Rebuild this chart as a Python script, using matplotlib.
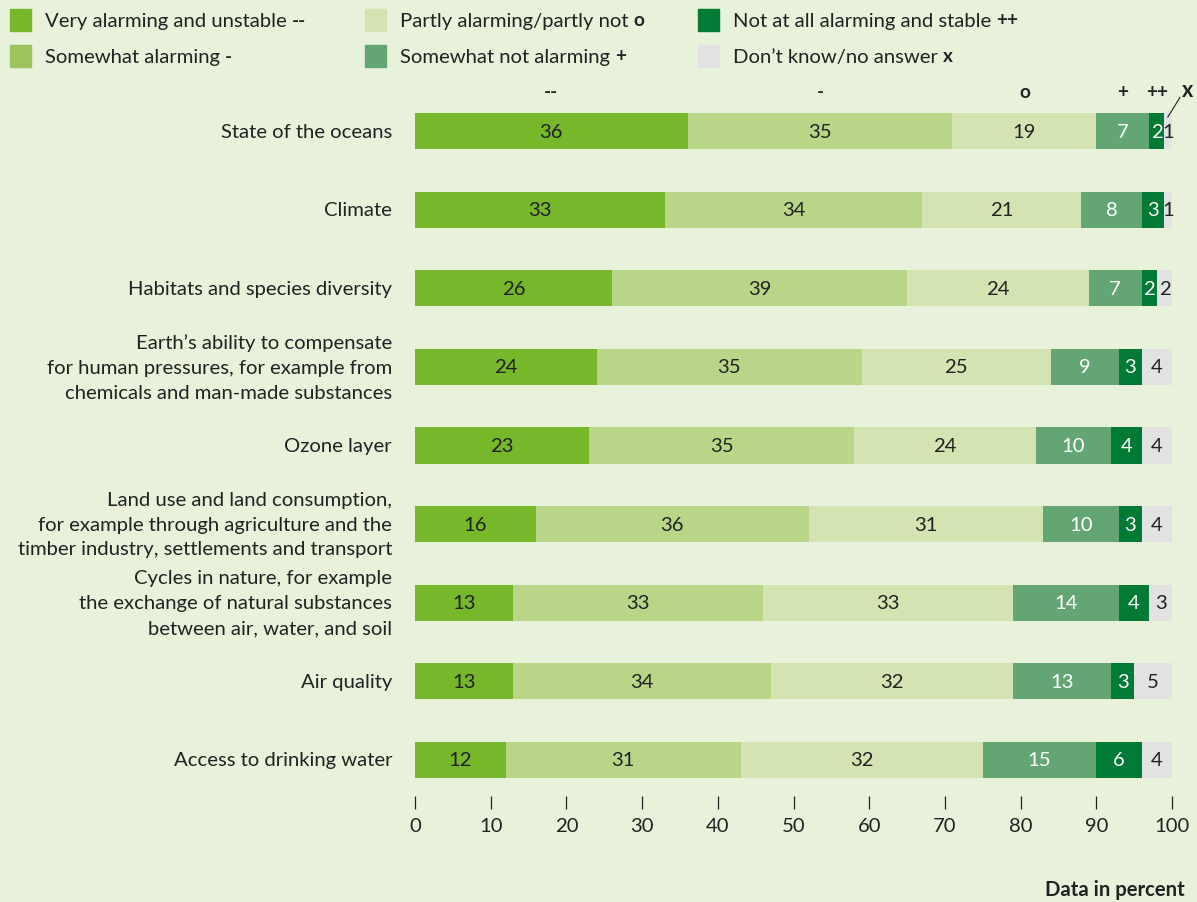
import numpy as np
import matplotlib
matplotlib.use("Agg")
import matplotlib.pyplot as plt
import matplotlib.transforms as mtransforms
from matplotlib.patches import Rectangle

plt.rcParams['font.family'] = ['Lato', 'DejaVu Sans']

topics = [
    "State of the oceans",
    "Climate",
    "Habitats and species diversity",
    "Earth\u2019s ability to compensate\nfor human pressures, for example from\nchemicals and man-made substances",
    "Ozone layer",
    "Land use and land consumption,\nfor example through agriculture and the\ntimber industry, settlements and transport",
    "Cycles in nature, for example\nthe exchange of natural substances\nbetween air, water, and soil",
    "Air quality",
    "Access to drinking water",
]

very_alarming = [36, 33, 26, 24, 23, 16, 13, 13, 12]
somewhat_alarming = [35, 34, 39, 35, 35, 36, 33, 34, 31]
partly = [19, 21, 24, 25, 24, 31, 33, 32, 32]
somewhat_not = [7, 8, 7, 9, 10, 10, 14, 13, 15]
not_at_all = [2, 3, 2, 3, 4, 3, 4, 3, 6]
dont_know = [1, 1, 2, 4, 4, 4, 3, 5, 4]

series = [very_alarming, somewhat_alarming, partly, somewhat_not, not_at_all, dont_know]
names = ["Very alarming and unstable", "Somewhat alarming", "Partly alarming/partly not",
         "Somewhat not alarming", "Not at all alarming and stable", "Don\u2019t know/no answer"]
symbols = ["--", "-", "o", "+", "++", "x"]
colors = ["#77b72a", "#b9d688", "#d3e3b2", "#63a674", "#007a35", "#e2e2e2"]
legend_colors = ["#77b72a", "#9dc45a", "#d3e3b2", "#63a674", "#007a35", "#e2e2e2"]
text_colors = ["#222222", "#222222", "#222222", "white", "white", "#222222"]

bg = "#e8f1da"
dark = "#222222"
fs = 14.6

W, H = 1197, 903
fig = plt.figure(figsize=(W / 100, H / 100), dpi=100, facecolor=bg)
ax = fig.add_axes([415 / W, 1 - 797 / H, 757 / W, (797 - 100) / H])
ax.set_facecolor(bg)

y = np.arange(len(topics))
left = np.zeros(len(topics))
for vals, c, tc in zip(series, colors, text_colors):
    vals = np.array(vals, dtype=float)
    ax.barh(y, vals, left=left, height=0.46, color=c, edgecolor="none")
    for yi, l, v in zip(y, left, vals):
        ax.text(l + v / 2, yi, f"{int(v)}", ha="center", va="center",
                fontsize=fs, color=tc)
    left += vals

ax.set_xlim(0, 100)
ax.set_ylim(8.46, -0.41)
ax.set_yticks([])
ax.set_xticks(np.arange(0, 101, 10))
ax.tick_params(axis="x", length=9, width=0.9, color=dark, labelsize=fs,
               labelcolor=dark, pad=6)
for s in ax.spines.values():
    s.set_visible(False)

# topic labels, right-aligned left of the bars
lab_tr = mtransforms.blended_transform_factory(ax.transAxes, ax.transData) + \
    mtransforms.ScaledTranslation(-23 / 100, 0, fig.dpi_scale_trans)
for yi, name in zip(y, topics):
    ax.text(0, yi, name, transform=lab_tr, ha="right", va="center",
            multialignment="right", fontsize=fs, color=dark, linespacing=1.55)

# column headers above the first bar
first = np.array([s[0] for s in series], dtype=float)
centers = np.cumsum(first) - first / 2
for cx, sym in zip(centers[:-1], symbols[:-1]):
    ax.text(cx, -0.51, sym, ha="center", va="center", fontsize=fs - 1,
            fontweight="bold", color=dark)
ax.text(102.1, -0.53, "x", ha="center", va="center", fontsize=fs + 1,
        fontweight="bold", color=dark, clip_on=False)
ax.plot([101.05, 99.45], [-0.43, -0.18], color=dark, lw=0.8, clip_on=False)

# legend
fig.canvas.draw()
renderer = fig.canvas.get_renderer()
col_x = [10, 365, 698]
row_y = [21, 57]
for i, (name, sym, c) in enumerate(zip(names, symbols, legend_colors)):
    col, row = i // 2, i % 2
    sx, sy = col_x[col], row_y[row]
    fig.patches.append(Rectangle((sx / W, 1 - (sy + 11) / H), 21 / W, 22 / H,
                                 transform=fig.transFigure, color=c))
    t = fig.text((sx + 35) / W, 1 - sy / H, name + " ", ha="left", va="center",
                 fontsize=fs, color=dark)
    bb = t.get_window_extent(renderer)
    fig.text(bb.x1 / W, 1 - sy / H, sym, ha="left", va="center",
             fontsize=fs - 1, fontweight="bold", color=dark)

fig.text(1185 / W, 1 - 890 / H, "Data in percent", ha="right", va="center",
         fontsize=fs, fontweight="bold", color=dark)

fig.savefig("out.png", dpi=100, facecolor=bg)
